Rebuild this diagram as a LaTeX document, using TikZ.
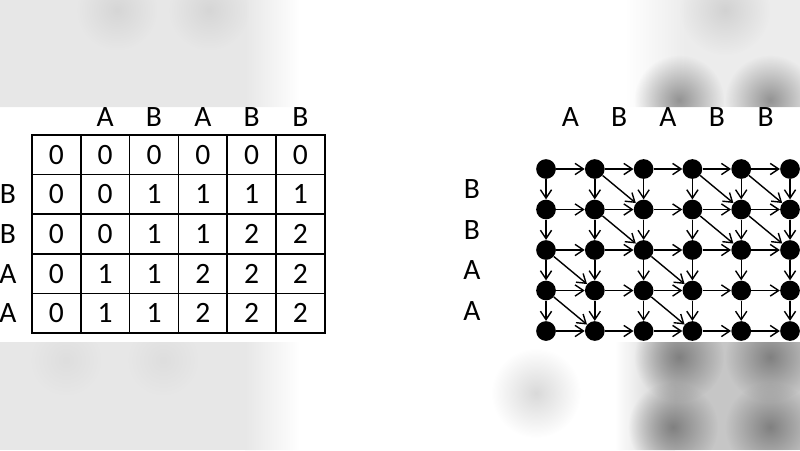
\documentclass[tikz,border=0pt]{standalone}
\usepackage{fontspec}
\setmainfont{Carlito}
\usetikzlibrary{arrows.meta}
\usetikzlibrary{fadings}

\tikzfading[name=softdot, inner color=transparent!0, outer color=transparent!100]

\tikzset{
  dot/.style={circle,fill=black,inner sep=0pt,minimum size=14pt},
  edge/.style={line width=1pt,-{Straight Barb[length=6pt,width=8pt]}},
  cellline/.style={line width=1.2pt},
  letter/.style={inner sep=0pt},
  blob/.style={path fading=softdot}
}

\begin{document}
\begin{tikzpicture}[x=0.025cm,y=-0.025cm,font=\fontsize{21}{25}\selectfont]
\useasboundingbox (0,0) rectangle (800,450);

% blurred background above and below
\begin{scope}
\clip (0,0) rectangle (800,107) (0,342) rectangle (800,450);
\fill[gray!19] (0,0) rectangle (245,450);
\shade[left color=gray!19,right color=white] (245,0) rectangle (300,450);
\fill[gray!32,blob] (117,10) circle (40);
\fill[gray!32,blob] (209,10) circle (40);
\fill[gray!26,blob] (66,360) circle (35);
\fill[gray!26,blob] (163,360) circle (35);
\shade[left color=white,right color=gray!15] (625,0) rectangle (685,107);
\fill[gray!15] (685,0) rectangle (800,107);
\fill[gray!35,blob] (725,10) circle (45);
\fill[gray!85,blob] (679,100) circle (45);
\fill[gray!85,blob] (770,100) circle (45);
\shade[left color=white,right color=gray!45] (615,342) rectangle (675,450);
\fill[gray!45] (675,342) rectangle (800,450);
\fill[gray!30,blob] (536,393) circle (45);
\fill[gray!100,blob] (679,357) circle (45);
\fill[gray!100,blob] (770,357) circle (45);
\fill[gray!100,blob] (673,427) circle (45);
\fill[gray!100,blob] (770,427) circle (45);
\end{scope}

% table of lengths
\draw[cellline] (32,135) rectangle (325,333);
\foreach \c in {1,...,5}
  \draw[cellline] ({32+48.8*\c},135) -- ({32+48.8*\c},333);
\foreach \r in {1,...,4}
  \draw[cellline] (32,{135+39.6*\r}) -- (325,{135+39.6*\r});
\foreach \row [count=\r from 0] in {{0,0,0,0,0,0},{0,0,1,1,1,1},{0,0,1,1,2,2},{0,1,1,2,2,2},{0,1,1,2,2,2}}
  \foreach \v [count=\c from 0] in \row
    \node[letter] (v-\r-\c) at ({32+48.8*(\c+0.5)},{135+39.6*(\r+0.5)}) {\v};
\foreach \t [count=\c from 1] in {A,B,A,B,B}
  \node[letter] (ta-\c) at ({32+48.8*(\c+0.5)},117) {\t};
\foreach \t [count=\r from 1] in {B,B,A,A}
  \node[letter] (tb-\r) at (8,{135+39.6*(\r+0.5)}) {\t};

% grid graph
\foreach \t [count=\c from 1] in {A,B,A,B,B}
  \node[letter] (ga-\c) at ({546+48.8*(\c-0.5)},117) {\t};
\foreach \t [count=\r from 1] in {B,B,A,A}
  \node[letter] (gb-\r) at (472,{169+40.5*(\r-0.5)}) {\t};
\foreach \r in {0,...,4}
  \foreach \c in {0,...,5}
    \node[dot] (n-\r-\c) at ({546+48.8*\c},{169+40.5*\r}) {};
\foreach \r in {0,...,4}
  \foreach \c [count=\d] in {0,...,4}
    \draw[edge] (n-\r-\c) -- (n-\r-\d);
\foreach \r [count=\s] in {0,...,3}
  \foreach \c in {0,...,5}
    \draw[edge] (n-\r-\c) -- (n-\s-\c);
\foreach \a/\b/\r/\c in {0/1/1/2,0/3/1/4,0/4/1/5,1/1/2/2,1/3/2/4,1/4/2/5,2/0/3/1,2/2/3/3,3/0/4/1,3/2/4/3}
  \draw[edge] (n-\a-\b) -- (n-\r-\c);
\end{tikzpicture}
\end{document}
